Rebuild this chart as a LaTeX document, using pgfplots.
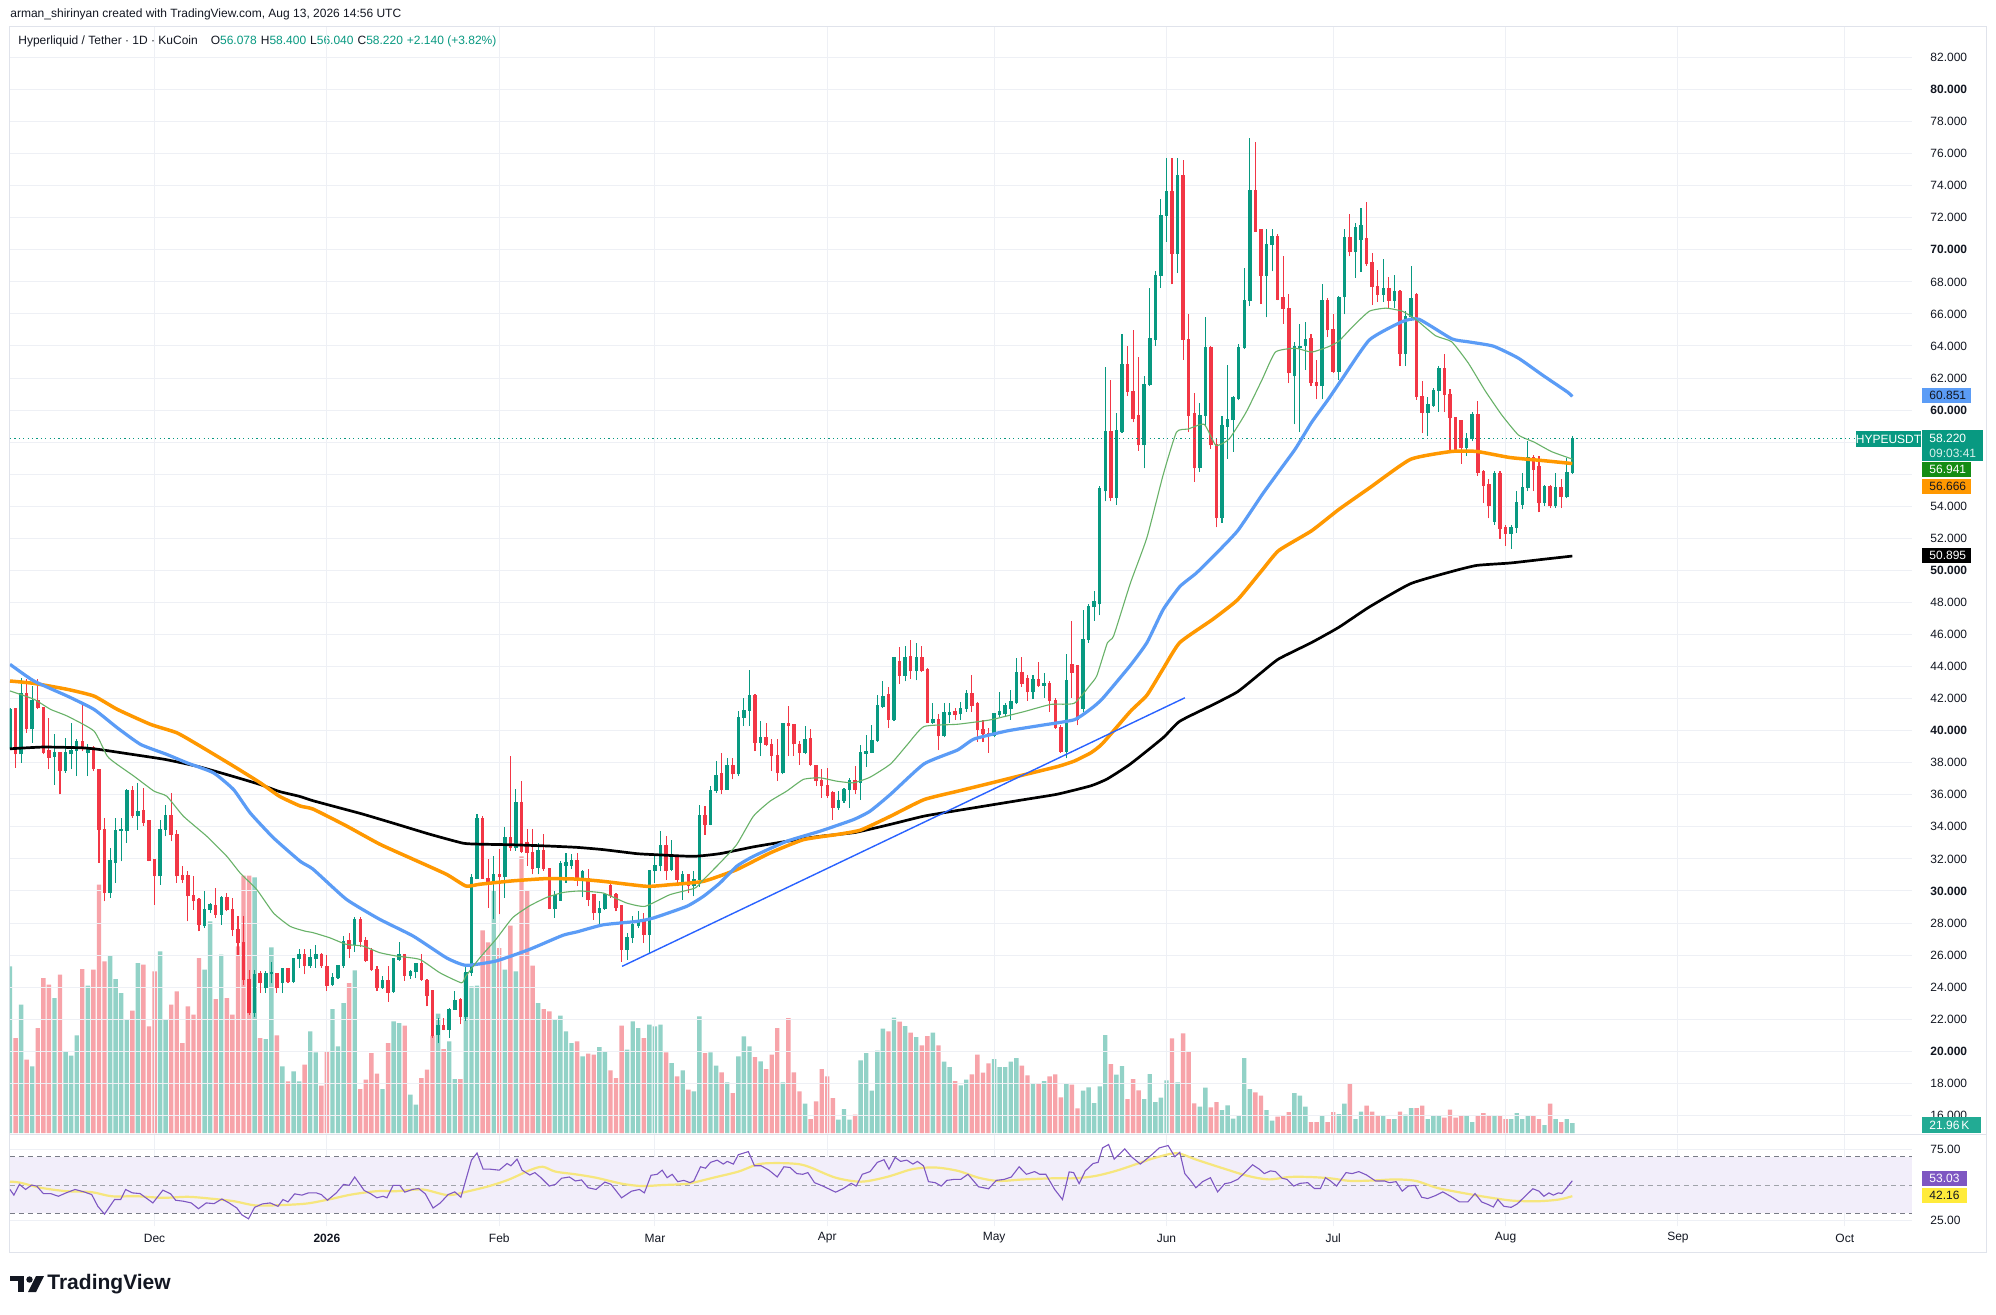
\documentclass[border=0pt]{standalone}
\usepackage{pgfplots}
\pgfplotsset{compat=1.18}
\usepackage{pgfplotstable}
\usepackage{fontspec}
\setmainfont{Liberation Sans}

\definecolor{tvgreen}{RGB}{8,153,129}
\definecolor{tvred}{RGB}{242,54,69}
\definecolor{volgreen}{RGB}{146,210,199}
\definecolor{volred}{RGB}{247,163,169}
\definecolor{maA}{RGB}{104,178,104}
\definecolor{maB}{RGB}{91,156,246}
\definecolor{maC}{RGB}{255,152,0}
\definecolor{trend}{RGB}{41,98,255}
\definecolor{gridc}{RGB}{238,240,245}
\definecolor{txt}{RGB}{19,23,34}
\definecolor{rsiline}{RGB}{126,87,194}
\definecolor{rsima}{RGB}{246,230,125}
\definecolor{rsiband}{RGB}{242,238,250}
\definecolor{dashc}{RGB}{120,123,134}
\definecolor{tagA}{RGB}{20,140,20}
\definecolor{volt}{RGB}{34,171,148}
\definecolor{yel}{RGB}{255,235,59}
\definecolor{framec}{RGB}{224,227,235}

\pgfplotstableread{
d o h l c v
-57 38.90 41.40 38.80 41.30 500
-56 41.33 41.40 37.68 38.52 285
-55 38.52 43.31 38.00 42.27 385
-54 42.27 43.21 39.87 40.08 220
-53 40.08 42.79 39.25 41.85 200
-52 41.85 43.21 41.33 41.43 315
-51 41.43 41.50 38.52 38.62 465
-50 38.73 40.81 37.58 38.31 445
-49 38.37 39.77 36.64 38.58 405
-48 38.62 38.65 36.02 37.48 475
-47 37.48 39.56 37.37 38.58 245
-46 38.52 40.50 37.58 38.73 232
-45 38.73 39.45 37.16 39.29 293
-44 39.29 41.64 38.73 38.83 492
-43 38.62 39.14 37.16 38.83 442
-42 38.93 39.04 37.48 37.58 490
-41 37.58 37.60 31.75 33.83 745
-40 33.83 34.56 29.35 29.87 515
-39 29.87 32.68 29.56 31.85 532
-38 31.75 34.56 30.50 33.73 462
-37 33.73 34.56 31.85 33.83 420
-36 33.73 36.37 33.00 36.23 342
-35 36.23 36.54 34.56 34.66 367
-34 34.66 36.75 33.83 34.91 510
-33 34.98 36.43 34.04 34.25 505
-32 34.35 34.45 31.85 31.90 320
-31 31.95 31.98 29.14 30.91 485
-30 30.91 34.45 30.39 33.83 545
-29 33.83 35.39 33.41 34.66 342
-28 34.66 36.12 33.10 33.52 385
-27 33.52 33.83 30.50 30.91 425
-26 30.91 31.54 30.50 30.70 270
-25 30.91 31.23 28.10 29.66 380
-24 29.66 30.91 28.83 29.35 355
-23 29.45 29.56 27.48 27.89 525
-22 27.79 29.98 27.68 28.83 490
-21 28.83 29.25 28.62 29.14 635
-20 29.08 30.18 28.31 28.52 402
-19 28.52 29.66 27.89 29.56 535
-18 29.56 29.87 28.73 28.83 405
-17 28.83 29.56 27.16 27.58 355
-16 27.58 28.41 26.02 26.75 560
-15 26.75 28.41 24.14 24.45 772
-14 24.45 25.08 22.27 22.37 772
-13 22.37 25.08 22.16 24.77 767
-12 24.83 24.98 23.62 24.25 285
-11 23.93 24.98 23.62 24.83 282
-10 24.80 25.60 24.25 24.87 557
-9 24.83 24.90 23.62 23.93 293
-8 24.25 25.18 23.62 25.12 200
-7 25.12 25.20 24.25 24.35 155
-6 24.35 25.81 24.25 25.75 185
-5 25.73 26.40 25.20 25.98 155
-4 25.98 26.40 24.80 25.30 205
-3 25.30 26.40 25.20 25.80 305
-2 25.73 26.65 25.20 25.98 242
-1 25.98 26.15 25.20 25.30 142
0 25.25 26.00 23.75 24.06 245
1 24.15 24.90 24.06 24.60 372
2 24.60 25.40 24.50 25.35 260
3 25.30 27.20 25.20 26.80 390
4 26.90 27.40 25.80 26.40 450
5 26.60 28.40 26.20 28.20 488
6 28.20 28.40 26.50 26.80 132
7 26.90 27.10 25.60 25.65 160
8 26.25 26.45 25.00 25.05 240
9 25.10 25.30 23.75 23.96 178
10 23.96 24.70 23.90 24.40 132
11 24.40 25.30 23.10 23.65 270
12 23.70 25.80 23.65 25.77 335
13 25.70 26.80 25.65 25.98 330
14 25.98 26.05 24.40 24.70 322
15 24.69 25.10 24.50 24.94 115
16 24.94 25.50 24.60 25.42 85
17 25.42 26.05 24.40 24.45 165
18 24.40 24.50 22.80 23.45 190
19 23.75 23.85 20.85 20.94 292
20 21.00 22.10 20.50 21.56 358
21 21.60 22.10 21.30 21.35 252
22 21.35 22.70 20.85 22.60 275
23 22.60 23.75 22.58 23.13 162
24 23.23 23.35 21.67 22.15 162
25 22.15 25.30 21.90 24.90 480
26 24.90 31.04 24.70 30.83 440
27 30.77 34.79 30.73 34.48 442
28 34.50 34.67 30.80 30.77 608
29 30.77 31.98 28.96 30.52 572
30 30.52 32.20 28.23 30.98 728
31 31.00 32.60 28.54 30.90 555
32 30.85 33.96 29.58 33.33 490
33 33.33 38.44 32.50 32.71 622
34 32.71 36.35 32.50 35.52 485
35 35.52 36.88 32.40 32.45 830
36 33.00 33.85 31.56 32.40 728
37 32.40 33.85 31.04 31.35 502
38 31.46 33.00 31.04 32.50 390
39 32.50 33.54 31.25 31.35 372
40 31.35 31.46 28.85 28.90 365
41 28.85 30.00 28.33 29.69 340
42 29.40 31.88 29.38 31.67 352
43 31.56 32.40 30.52 31.77 305
44 31.56 32.30 31.35 31.88 270
45 31.88 32.40 30.31 30.83 275
46 30.70 31.30 29.60 31.20 230
47 30.75 31.37 29.04 29.46 238
48 29.77 29.80 28.20 28.60 235
49 28.60 29.35 27.80 28.90 258
50 28.87 29.90 28.83 29.77 245
51 30.33 30.50 29.56 29.66 188
52 29.77 29.87 28.73 28.93 165
53 29.04 29.10 25.60 26.33 322
54 26.33 27.37 25.70 27.06 250
55 27.06 28.41 26.75 27.89 335
56 27.79 28.73 27.68 28.10 315
57 28.10 28.62 26.75 27.27 285
58 27.27 31.33 26.12 31.23 325
59 31.23 32.16 30.50 31.54 320
60 31.54 33.73 31.23 32.79 325
61 32.79 33.41 30.70 31.23 242
62 31.33 33.20 31.23 32.16 210
63 32.16 32.27 30.29 30.70 170
64 30.50 31.23 29.45 31.02 188
65 31.02 31.08 29.87 30.29 130
66 30.29 31.23 29.66 30.70 125
67 30.70 35.39 30.25 34.66 350
68 34.66 35.29 33.52 34.14 240
69 34.14 36.54 34.10 36.23 242
70 36.23 38.10 36.10 37.16 202
71 37.27 38.62 36.02 36.33 182
72 36.33 38.30 36.30 37.79 152
73 37.79 38.30 36.96 37.27 120
74 37.27 41.23 37.16 40.81 230
75 40.81 42.06 40.29 41.23 290
76 41.23 43.79 40.29 42.16 260
77 42.16 42.27 38.73 39.25 228
78 39.25 40.60 38.41 39.56 215
79 39.56 40.45 39.04 39.10 192
80 39.14 39.45 37.48 38.41 235
81 38.41 39.45 36.85 37.37 315
82 37.37 40.50 37.27 40.39 152
83 40.39 41.54 38.41 40.29 345
84 40.33 40.39 38.41 39.14 182
85 39.14 39.35 37.89 38.62 125
86 38.62 40.29 38.52 39.45 88
87 39.50 40.08 37.79 37.85 42
88 37.79 37.89 36.54 36.85 95
89 36.85 37.58 35.81 36.54 192
90 36.58 37.68 35.81 35.91 170
91 36.12 36.23 34.45 35.18 105
92 35.18 36.23 35.08 35.60 40
93 35.60 36.43 35.50 36.33 72
94 36.33 37.06 35.18 36.85 40
95 36.85 37.79 36.02 36.33 55
96 36.73 39.13 35.70 38.62 218
97 38.55 39.72 37.76 38.70 240
98 38.62 40.33 38.60 39.37 127
99 39.37 42.22 39.30 41.53 247
100 41.47 43.08 41.40 42.12 313
101 42.22 42.73 40.16 40.68 305
102 40.68 44.62 40.60 44.52 346
103 44.28 45.20 42.90 43.42 334
104 43.42 45.31 43.08 44.52 321
105 44.62 45.65 43.25 43.70 301
106 43.70 45.48 43.14 44.52 288
107 44.52 45.31 43.65 43.70 263
108 43.76 43.93 40.45 40.50 291
109 40.50 41.71 40.40 40.68 301
110 40.68 41.02 38.79 39.65 263
111 39.65 41.71 39.58 41.09 214
112 40.95 41.71 40.50 41.12 198
113 41.19 41.43 40.68 40.95 156
114 41.02 41.77 40.68 41.36 143
115 41.36 42.56 41.19 42.32 160
116 42.32 43.49 41.19 41.53 176
117 41.64 41.77 39.30 40.06 235
118 40.06 40.68 39.30 39.82 181
119 39.82 40.16 38.62 39.65 209
120 39.65 41.09 39.58 41.02 222
121 41.00 42.39 40.85 41.19 198
122 41.02 41.71 40.85 41.53 198
123 41.36 42.56 40.68 41.77 214
124 41.71 44.52 41.65 43.59 225
125 43.59 44.62 42.73 42.90 202
126 43.20 43.49 41.88 42.39 173
127 42.39 43.49 41.98 43.14 148
128 43.14 44.28 42.75 42.80 148
129 42.80 43.59 42.05 42.90 156
130 42.90 43.08 41.19 41.88 170
131 41.88 42.05 40.10 40.16 176
132 40.16 40.33 38.62 38.69 107
133 38.69 44.79 38.27 43.08 148
134 44.11 46.85 42.05 43.60 145
135 44.04 44.11 40.33 40.68 74
136 41.36 47.54 41.19 45.65 127
137 45.65 47.88 45.48 47.71 137
138 47.70 48.73 46.85 48.05 90
139 47.88 55.26 47.20 55.08 140
140 54.93 62.72 54.31 58.62 294
141 58.62 61.90 54.31 54.52 207
142 54.52 59.85 54.11 58.70 175
143 58.62 64.77 58.60 62.80 201
144 62.80 64.03 60.87 61.16 102
145 61.16 64.97 59.23 59.44 162
146 59.64 63.33 57.47 57.80 128
147 57.80 62.10 56.36 61.57 102
148 61.57 67.63 61.49 64.44 177
149 64.36 68.66 64.03 68.37 93
150 68.37 73.17 67.63 72.14 106
151 72.14 75.75 70.50 73.58 158
152 73.58 75.75 67.84 69.76 284
153 69.76 75.75 68.54 74.60 152
154 74.60 75.63 63.13 64.36 299
155 64.36 65.99 58.62 59.64 244
156 59.77 61.08 55.54 56.36 89
157 56.36 60.46 56.16 59.64 79
158 59.64 65.79 59.03 63.87 136
159 63.87 64.03 57.59 57.80 77
160 57.80 58.21 52.68 53.29 93
161 53.29 59.64 52.96 59.03 69
162 58.95 62.80 56.98 59.36 83
163 59.36 60.87 57.39 60.75 43
164 60.67 64.15 60.60 63.87 53
165 63.87 68.86 63.80 66.81 225
166 66.81 76.98 66.48 73.70 132
167 73.70 76.73 71.10 71.12 122
168 71.24 71.32 66.61 68.37 112
169 68.37 71.32 65.79 70.30 69
170 70.30 71.32 68.66 70.79 37
171 70.79 71.00 66.85 66.89 49
172 67.02 69.60 65.38 66.32 53
173 66.32 67.22 61.69 62.31 63
174 62.10 64.27 59.11 63.95 120
175 63.87 65.38 58.62 63.95 112
176 64.00 65.50 62.51 64.36 79
177 64.44 64.77 61.49 61.69 33
178 61.69 63.13 60.67 61.49 33
179 61.49 67.84 60.67 66.81 53
180 66.81 67.02 64.56 64.97 33
181 64.97 65.99 62.31 62.39 63
182 62.39 67.14 61.90 67.02 57
183 67.04 71.30 65.98 70.73 88
184 70.73 72.25 69.59 69.85 148
185 69.85 71.68 68.26 71.37 42
186 70.60 72.63 68.64 71.49 64
187 70.65 73.01 69.02 69.09 82
188 69.21 69.78 66.55 67.69 64
189 67.69 68.71 66.74 67.19 51
190 67.19 69.40 66.74 67.57 51
191 67.57 68.33 66.36 66.81 42
192 66.81 68.45 66.36 67.38 42
193 67.38 67.50 62.74 63.50 64
194 63.50 66.17 62.74 65.78 55
195 65.78 69.02 65.59 66.93 75
196 67.19 67.31 60.65 60.84 75
197 60.84 61.79 58.56 59.82 82
198 59.82 60.84 58.37 60.34 42
199 60.27 61.41 60.20 61.22 51
200 61.22 62.74 59.89 62.55 51
201 62.55 63.50 59.89 60.96 46
202 60.96 61.33 57.42 59.51 70
203 59.51 59.60 57.40 57.42 46
204 59.32 59.40 56.66 57.61 51
205 57.61 58.56 57.16 58.18 51
206 58.18 59.89 58.07 59.70 33
207 59.70 60.57 55.90 56.09 51
208 56.17 56.28 54.19 55.26 60
209 55.33 55.71 53.24 54.00 51
210 53.05 56.17 52.86 56.01 51
211 56.01 56.17 51.98 52.59 51
212 52.67 52.86 51.53 52.29 42
213 52.29 52.86 51.34 52.67 42
214 52.67 54.95 52.36 54.19 60
215 54.11 56.09 53.81 55.14 42
216 55.14 58.07 54.95 57.04 51
217 57.04 57.23 54.95 56.28 51
218 56.47 57.16 53.62 54.19 42
219 54.19 55.33 54.00 55.21 24
220 55.21 55.33 53.89 54.00 88
221 54.00 56.09 53.89 55.14 42
222 55.14 55.71 53.89 54.57 33
223 54.57 57.04 54.49 56.09 42
224 56.078 58.40 56.04 58.22 30
}\candles

\newcommand{\sz}{\fontsize{6}{7}\selectfont}
\pgfplotsset{
  cndl/.style={only marks,mark=text,text mark={},forget plot,restrict y to domain=0:1000},
}

\begin{document}
\begin{tikzpicture}
\begin{scope}[x=0.5pt,y=-0.5pt]
\fill[white] (0,0) rectangle (1996,1314);
\useasboundingbox (0,0) rectangle (1996,1314);
% header
\node[anchor=west,inner sep=0pt,font=\sz,text=txt] at (10,14) {arman\_shirinyan created with TradingView.com, Aug 13, 2026 14:56 UTC};
\node[anchor=west,inner sep=0pt,font=\sz,text=txt] at (18,41) {Hyperliquid / Tether · 1D · KuCoin\hspace{6.5pt}O\textcolor{tvgreen}{56.078}\hspace{2pt}H\textcolor{tvgreen}{58.400}\hspace{2pt}L\textcolor{tvgreen}{56.040}\hspace{2pt}C\textcolor{tvgreen}{58.220}\hspace{2pt}\textcolor{tvgreen}{+2.140 (+3.82\%)}};
% frame
\draw[framec,line width=0.5pt] (9,26) rectangle (1986,1252);
\draw[framec,line width=0.5pt] (9,1134) -- (1986,1134);
\end{scope}

% volume axis
\begin{axis}[at={(5pt,-13.5pt)},anchor=north west,scale only axis,width=951pt,height=553pt,
  xmin=-57,xmax=285.1,ymin=0,ymax=3318,hide axis,clip=true]
\addplot[ybar,bar width=2.2pt,bar shift=0pt,fill=volgreen,draw=none,restrict y to domain=0:100000]
  table[x=d,y expr={\thisrow{c}<\thisrow{o} ? -10 : \thisrow{v}}]{\candles};
\addplot[ybar,bar width=2.2pt,bar shift=0pt,fill=volred,draw=none,restrict y to domain=0:100000]
  table[x=d,y expr={\thisrow{c}<\thisrow{o} ? \thisrow{v} : -10}]{\candles};
\end{axis}

% price axis
\begin{axis}[at={(5pt,-13.5pt)},anchor=north west,scale only axis,width=951pt,height=553pt,
  xmin=-57,xmax=285.1,ymin=14.9,ymax=83.9,
  axis line style={draw=none},tick style={draw=none},
  grid=major,major grid style={gridc,line width=0.5pt},
  xtick={-31,0,31,59,90,120,151,181,212,243,273},xticklabel=\empty,
  ytick={16,18,...,82},yticklabel pos=right,
  yticklabels={16.000,18.000,\textbf{20.000},22.000,24.000,26.000,28.000,\textbf{30.000},32.000,34.000,36.000,38.000,\textbf{40.000},42.000,44.000,46.000,48.000,\textbf{50.000},52.000,54.000,{},{},\textbf{60.000},62.000,64.000,66.000,68.000,\textbf{70.000},72.000,74.000,76.000,78.000,\textbf{80.000},82.000},
  yticklabel style={anchor=west,inner sep=0pt,font=\sz,text=txt},
  yticklabel shift=9pt,
  clip=true]
% wicks
\addplot[cndl,error bars/.cd,y dir=plus,y explicit,error mark=none,error bar style={line width=0.55pt,tvgreen}]
  table[x=d,y expr={\thisrow{c}<\thisrow{o} ? -100 : \thisrow{l}},y error expr=\thisrow{h}-\thisrow{l}]{\candles};
\addplot[cndl,error bars/.cd,y dir=plus,y explicit,error mark=none,error bar style={line width=0.55pt,tvred}]
  table[x=d,y expr={\thisrow{c}<\thisrow{o} ? \thisrow{l} : -100},y error expr=\thisrow{h}-\thisrow{l}]{\candles};
% bodies
\addplot[cndl,error bars/.cd,y dir=plus,y explicit,error mark=none,error bar style={line width=1.75pt,tvgreen}]
  table[x=d,y expr={\thisrow{c}<\thisrow{o} ? -100 : \thisrow{o}},y error expr=abs(\thisrow{c}-\thisrow{o})+0.06]{\candles};
\addplot[cndl,error bars/.cd,y dir=plus,y explicit,error mark=none,error bar style={line width=1.75pt,tvred}]
  table[x=d,y expr={\thisrow{c}<\thisrow{o} ? \thisrow{c} : -100},y error expr=abs(\thisrow{o}-\thisrow{c})+0.06]{\candles};
% moving averages
\addplot[black,line width=1.35pt,smooth,tension=0.3] coordinates {(-57,38.87) (-51,38.98) (-44,38.93) (-41,38.83) (-35,38.52) (-29,38.2) (-23,37.75) (-17,37.16) (-12,36.64) (-8.5,36.2) (-5,35.91) (-2.5,35.63) (2,35.21) (6.5,34.79) (12.5,34.17) (18.5,33.54) (24.5,32.98) (27.5,32.92) (33.5,32.88) (39.4,32.81) (45,32.72) (49.7,32.58) (55.7,32.33) (58.7,32.27) (65.9,32.16) (70.7,32.33) (76.7,32.75) (82.7,33.1) (88.7,33.41) (95,33.65) (101.4,34.16) (107.4,34.67) (113.4,35.02) (119.4,35.36) (125.4,35.7) (131.4,36.04) (137.4,36.56) (140.4,37.0) (144.5,37.92) (150.4,39.56) (153.4,40.59) (159.3,41.61) (163.8,42.43) (168.2,43.66) (171.2,44.48) (177.1,45.50) (182,46.45) (187.5,47.72) (194.9,49.17) (202.3,49.93) (206.8,50.31) (212.8,50.46) (218.7,50.69) (224,50.895)};
\addplot[maC,line width=1.75pt,smooth,tension=0.3] coordinates {(-57,43.1) (-52.7,42.95) (-46.7,42.58) (-41.9,42.16) (-37.7,41.33) (-31.7,40.39) (-27,39.87) (-22.8,39.04) (-16.8,37.79) (-12,36.75) (-8.5,35.9) (-4.8,35.3) (-2.5,35.11) (3.5,34.06) (9.5,32.92) (15.5,31.98) (21.5,31.04) (25,30.31) (27.5,30.42) (33.4,30.63) (39.4,30.77) (45,30.74) (49.7,30.6) (57.5,30.29) (61.7,30.39) (67.7,30.6) (73.7,31.33) (79.7,32.37) (85.7,33.2) (91.7,33.52) (96,33.8) (101.4,34.67) (107.4,35.7) (113.4,36.22) (119.4,36.73) (125.4,37.25) (131.4,37.76) (134.4,38.1) (137.4,38.62) (139.5,39.2) (144.5,41.2) (147.5,42.22) (150.4,43.86) (153.4,45.5) (159.3,46.94) (163.8,48.17) (168.2,50.01) (171.2,51.24) (177.1,52.47) (182,53.8) (187.5,55.14) (194.9,56.93) (202.3,57.42) (206.8,57.42) (212.8,57.04) (218.7,56.85) (224,56.666)};
\addplot[maB,line width=1.6pt,smooth,tension=0.3] coordinates {(-57,44.14) (-52.7,43.1) (-46.7,42.16) (-41.9,41.33) (-37.7,40.18) (-33.5,39.14) (-28.8,38.52) (-25.2,38.0) (-20.4,37.37) (-16.8,36.33) (-13.8,34.87) (-9.6,33.31) (-4.8,31.85) (-2.5,31.36) (3.5,29.48) (9.5,28.23) (15.5,27.19) (21.5,25.83) (25,25.36) (30.4,25.63) (36.4,26.35) (42.4,27.23) (45,27.45) (49.7,27.89) (55.7,28.1) (58.7,28.31) (64.7,29.04) (67.7,29.66) (70.7,30.5) (73.7,31.54) (76.7,32.16) (82.7,33.1) (88.7,33.73) (94.7,34.45) (97.7,34.98) (101.4,36.04) (107.4,37.93) (113.4,38.79) (116.4,39.48) (122.4,39.99) (128.4,40.33) (134.4,40.68) (137.4,41.36) (139.5,42.0) (144.5,44.07) (147.5,45.5) (150.4,47.55) (153.4,48.99) (156.3,49.81) (159.3,50.83) (163.8,52.47) (168.2,54.72) (171.2,56.16) (174.2,57.59) (177.1,59.23) (180.1,60.67) (182.5,61.9) (187.5,64.38) (193.4,65.52) (196.4,65.67) (202.3,64.45) (205.3,64.26) (209.8,63.99) (214.3,63.24) (218.7,62.17) (223.2,61.11) (224,60.851)};
\addplot[maA,line width=0.55pt,smooth,tension=0.3] coordinates {(-57,42.48) (-52.7,41.96) (-49.7,41.33) (-46.7,40.91) (-41.9,39.98) (-39.5,38.41) (-37.7,37.89) (-34.7,37.16) (-31.1,36.23) (-28.8,35.91) (-25.8,34.66) (-21.6,33.41) (-18,32.16) (-15.6,31.12) (-12.6,30.08) (-9.6,28.62) (-6.6,27.79) (-4,27.5) (-2.5,27.4) (0.5,27.08) (3.5,26.67) (6.5,26.56) (9.5,26.15) (12.5,25.94) (16.7,25.73) (20.3,24.9) (24.2,24.27) (25,24.69) (27.5,25.83) (30.4,26.98) (33.4,28.33) (36.4,29.06) (39.4,29.58) (42.4,29.9) (45.4,30.0) (49.7,29.87) (53.9,29.25) (57.2,29.04) (61.7,29.77) (66.2,30.18) (67.7,30.7) (70.7,31.75) (73.7,32.89) (76.7,34.66) (79.7,35.6) (82.7,36.23) (85.7,36.96) (88.7,37.06) (91.7,36.85) (94.7,36.75) (97.7,37.1) (101.4,37.93) (104.4,39.13) (107.4,40.26) (113.4,40.4) (119.4,40.68) (125.4,41.19) (130.2,41.64) (134.4,41.71) (137.4,42.9) (138.5,43.45) (140.4,45.5) (141.5,45.91) (144.5,49.19) (147.5,52.06) (150.4,55.95) (152.8,58.62) (154.9,58.82) (157.8,59.11) (159.9,57.8) (162.3,58.21) (165.3,59.85) (168.2,61.9) (170.6,63.62) (174.2,63.86) (177.1,63.62) (180.1,63.95) (182,64.3) (184.5,65.21) (187.5,66.17) (190.5,66.36) (193.4,66.17) (195.8,65.67) (199.4,64.64) (202.3,64.26) (205.3,62.93) (208.3,61.22) (211.3,59.7) (214.3,58.45) (217.2,57.99) (220.2,57.42) (223.2,57.04) (224,56.941)};
% trend line
\addplot[trend,line width=0.7pt] coordinates {(53.1,25.3) (154.3,42.05)};
% last price line
\addplot[tvgreen,line width=0.5pt,dash pattern=on 0.6pt off 1.6pt] coordinates {(-57,58.22) (285.1,58.22)};
\end{axis}

% RSI axis
\begin{axis}[at={(5pt,-567.5pt)},anchor=north west,scale only axis,width=951pt,height=45.5pt,
  xmin=-57,xmax=285.1,ymin=21.1,ymax=85.3,
  axis line style={draw=none},tick style={draw=none},
  grid=major,major grid style={gridc,line width=0.5pt},
  xtick={-31,0,31,59,90,120,151,181,212,243,273},
  xticklabels={Dec,\textbf{2026},Feb,Mar,Apr,May,Jun,Jul,Aug,Sep,Oct},
  xticklabel style={anchor=center,inner sep=0pt,font=\sz,text=txt},
  xticklabel shift=6pt,
  ytick={25,75},yticklabels={25.00,75.00},yticklabel pos=right,
  yticklabel style={anchor=west,inner sep=0pt,font=\sz,text=txt},
  yticklabel shift=9pt,
  clip=true]
\addplot[draw=none,fill=rsiband] coordinates {(-57,30) (285.1,30) (285.1,70) (-57,70)} -- cycle;
\addplot[dashc,line width=0.5pt,dash pattern=on 2.5pt off 2pt] coordinates {(-57,70) (285.1,70)};
\addplot[dashc!70,line width=0.5pt,dash pattern=on 2.5pt off 2pt] coordinates {(-57,50) (285.1,50)};
\addplot[dashc,line width=0.5pt,dash pattern=on 2.5pt off 2pt] coordinates {(-57,30) (285.1,30)};
\addplot[rsima,line width=1.1pt,smooth] coordinates {(-57,52.4) (-55.2,51.7) (-51.5,48.1) (-46.9,45.7) (-42.3,45) (-38.7,42.1) (-34.1,42.1) (-29.5,41) (-24.9,41.7) (-20.3,40.2) (-16.7,38.6) (-13,35.7) (-9.3,35.7) (-3.8,36.9) (0.3,39.8) (4.4,43.3) (9,45.7) (12.6,45.7) (17.2,46.9) (21.8,42.9) (25.5,45.7) (29.2,49.3) (32.8,54) (36.5,60.5) (38.8,62.9) (41.1,59.5) (44.7,57.6) (48.4,55.2) (53,51) (56.6,49.3) (60.3,50) (64.9,51) (69.5,55.2) (74,59.5) (77.7,64.8) (81.4,65.5) (84.8,64.8) (87,62.4) (91.5,55.2) (96.1,52.4) (100.7,55.7) (105.3,61.2) (109.4,62.4) (113.5,60) (117.2,55.2) (120.8,52.9) (125.4,54) (130.9,54.8) (134.6,54.8) (138.2,56.4) (141.9,60) (145.6,64.8) (149.2,69.5) (152.9,72.4) (156.6,67.6) (161.1,61.9) (165.7,56.4) (169.4,54) (173.1,55.7) (176.7,55.7) (180.4,54.8) (184.1,52.9) (188.6,53.3) (192.3,54) (195.9,52.9) (199.6,48.1) (204.2,44.5) (208.8,41.4) (213.3,39) (217.9,38.6) (221.6,39.8) (224,42.16)};
\addplot[rsiline,line width=0.55pt] coordinates {(-57,46.9) (-56.3,42.9) (-55.3,50.5) (-54.2,46.9) (-53.1,50) (-52.2,49.3) (-51,44) (-49.7,44) (-48.3,42.1) (-46.9,44.5) (-45.3,46.9) (-43.7,45.2) (-42.3,43.3) (-41.2,35) (-40,29.5) (-38.2,39.8) (-37.1,39.8) (-36.2,46.9) (-35,44.5) (-33.6,44) (-31.3,37.4) (-29.5,46.4) (-28.1,43.8) (-27.2,39.3) (-25.8,38.6) (-24.4,37.4) (-23.1,33.3) (-21.7,37.4) (-20.3,36.9) (-18.9,40.2) (-17.6,37.4) (-16.2,33.8) (-15.3,29) (-14.1,26.2) (-13,34.3) (-11.6,36.7) (-10.2,37.4) (-8.8,35) (-7.9,39.8) (-7,38.1) (-5.8,43.8) (-4.5,42.9) (-3.3,44.5) (-1.9,44.5) (-1,43.3) (0.1,39.3) (1.7,44.5) (3,50.5) (4,49.8) (5,55.7) (6.7,46.2) (7.9,43.8) (9,41) (10.1,42.1) (10.8,41) (11.9,49.8) (13.1,49.8) (14,45) (15.4,46.9) (16.5,47.6) (17.7,43.8) (19.1,33.8) (20.4,37.4) (21.8,43.3) (23,45.2) (24.1,41.4) (26,67.6) (27,72.6) (28.1,61.2) (29.4,61.2) (31,60.5) (32.4,65.2) (33.1,63.6) (34.2,68.3) (35.1,60.5) (36.5,57.1) (37.4,58.8) (38.5,55.2) (40,49.3) (41.1,50.5) (42.2,54.8) (43.6,55.7) (44.7,52.9) (45.8,53.6) (47,48.1) (48.4,46.9) (50,52.1) (51.1,50.5) (53,41) (54.8,45.7) (56.2,46.9) (57.1,44.5) (58.3,56.9) (59.4,57.6) (60.3,60.5) (61.2,55.2) (62.1,57.6) (63.1,52.4) (64.2,53.3) (65.3,51.7) (66,52.9) (67.2,62.9) (68.1,61.9) (69,66) (70.2,67.6) (71.3,64.8) (72,66.7) (73.1,64.8) (74,71.4) (75.8,73.6) (76.9,63.6) (78.1,63.6) (79.5,60.5) (81,55.7) (82.2,62.9) (83.3,62.4) (84.5,58.1) (85.6,57.6) (86.5,58.8) (87.7,51.7) (89.2,49.3) (91.5,45) (92.9,47.6) (94.3,51.2) (95.2,49.3) (96.3,57.6) (97.7,59.5) (99,66) (100.2,67.9) (101.1,61.2) (102.2,69.5) (103.2,66.7) (104.3,67.6) (105.4,64.8) (106.2,66.7) (107.3,63.6) (108.2,52.4) (109.4,51.7) (110.5,49.3) (111.5,53.3) (112.8,54) (114,54) (115.3,57.6) (117.2,48.8) (119,47.4) (120.4,53.3) (121.8,54) (123.1,55.7) (124.5,62.9) (125.8,57.6) (127.3,59.5) (128.2,57.6) (129.3,57.6) (130.9,46.9) (132.3,39.8) (133.5,59.3) (134.3,58.8) (135.3,51) (136.4,60) (137.8,65.2) (138.7,66) (139.5,76.2) (140.6,78.6) (141.6,68.3) (142.7,72.4) (143.5,75.5) (144.7,70) (146.3,64.8) (147.4,68.3) (148.5,71.9) (149.7,76.2) (151.3,77.9) (152.5,70) (153.4,73.1) (154.3,58.1) (155.4,52.9) (156.3,48.1) (157.5,52.4) (158.9,55.2) (160.2,45.2) (161.5,51) (162.5,51.7) (163.8,54) (165.1,58.8) (166.5,64.3) (167.7,61.2) (168.6,58.1) (169.7,60) (170.6,59.5) (171.8,54.8) (172.7,54) (173.9,49.3) (175,51.2) (176.4,51.7) (177.6,47.6) (178.7,47.6) (179.6,55.2) (180.5,52.9) (181.6,49.3) (183.3,58.8) (184.4,58.1) (185.6,59.5) (187,57.1) (188.6,52.9) (190.2,52.9) (191.1,51.7) (192.3,52.4) (193.4,45.7) (194.5,49.3) (195.7,49.8) (196.9,41.4) (198,40.5) (199.4,42.6) (200.7,45.2) (202.1,42.1) (203.7,38.1) (205.2,38.1) (206.5,44) (207.7,38.1) (208.9,36.2) (209.8,34.5) (210.6,39.8) (211.7,35) (213,34.3) (214.1,36.7) (215.5,42.1) (216.9,47.4) (218,45.7) (218.9,42.1) (219.8,44.5) (220.6,42.9) (221.5,44.5) (222.1,44) (223,48.1) (224,53.03)};
\end{axis}

\begin{scope}[x=0.5pt,y=-0.5pt]
% right-hand value tags
\fill[maB] (1922,388) rectangle (1971,403);
\node[anchor=west,inner sep=0pt,font=\sz,text=txt] at (1929,395.5) {60.851};
\fill[tvgreen] (1856,431) rectangle (1921,447);
\node[inner sep=0pt,font=\sz,text=white] at (1888.5,439) {HYPEUSDT};
\fill[tvgreen] (1922,430) rectangle (1983,461);
\node[anchor=west,inner sep=0pt,font=\sz,text=white] at (1929,438) {58.220};
\node[anchor=west,inner sep=0pt,font=\sz,text=white!85!tvgreen] at (1929,453) {09:03:41};
\fill[tagA] (1922,462) rectangle (1971,477);
\node[anchor=west,inner sep=0pt,font=\sz,text=white] at (1929,469.5) {56.941};
\fill[maC] (1922,479) rectangle (1971,494);
\node[anchor=west,inner sep=0pt,font=\sz,text=txt] at (1929,486.5) {56.666};
\fill[black] (1922,548) rectangle (1971,563);
\node[anchor=west,inner sep=0pt,font=\sz,text=white] at (1929,555.5) {50.895};
\fill[volt] (1922,1117) rectangle (1981,1133);
\node[anchor=west,inner sep=0pt,font=\sz,text=white] at (1929,1125) {21.96\,K};
\fill[rsiline] (1922,1171) rectangle (1967,1186);
\node[anchor=west,inner sep=0pt,font=\sz,text=white] at (1929,1178.5) {53.03};
\fill[yel] (1922,1188) rectangle (1967,1203);
\node[anchor=west,inner sep=0pt,font=\sz,text=txt] at (1929,1195.5) {42.16};
% TradingView logo
\fill[txt] (10,1276) rectangle (24,1281);
\fill[txt] (18,1276) rectangle (24,1292);
\fill[txt] (29.5,1279.5) circle (3.2);
\fill[txt] (36,1276) -- (44,1276) -- (36,1292) -- (28,1292) -- cycle;
\node[anchor=west,inner sep=0pt,font=\fontsize{10.5}{12}\selectfont\bfseries,text=txt] at (47,1284) {TradingView};
\end{scope}
\end{tikzpicture}
\end{document}
